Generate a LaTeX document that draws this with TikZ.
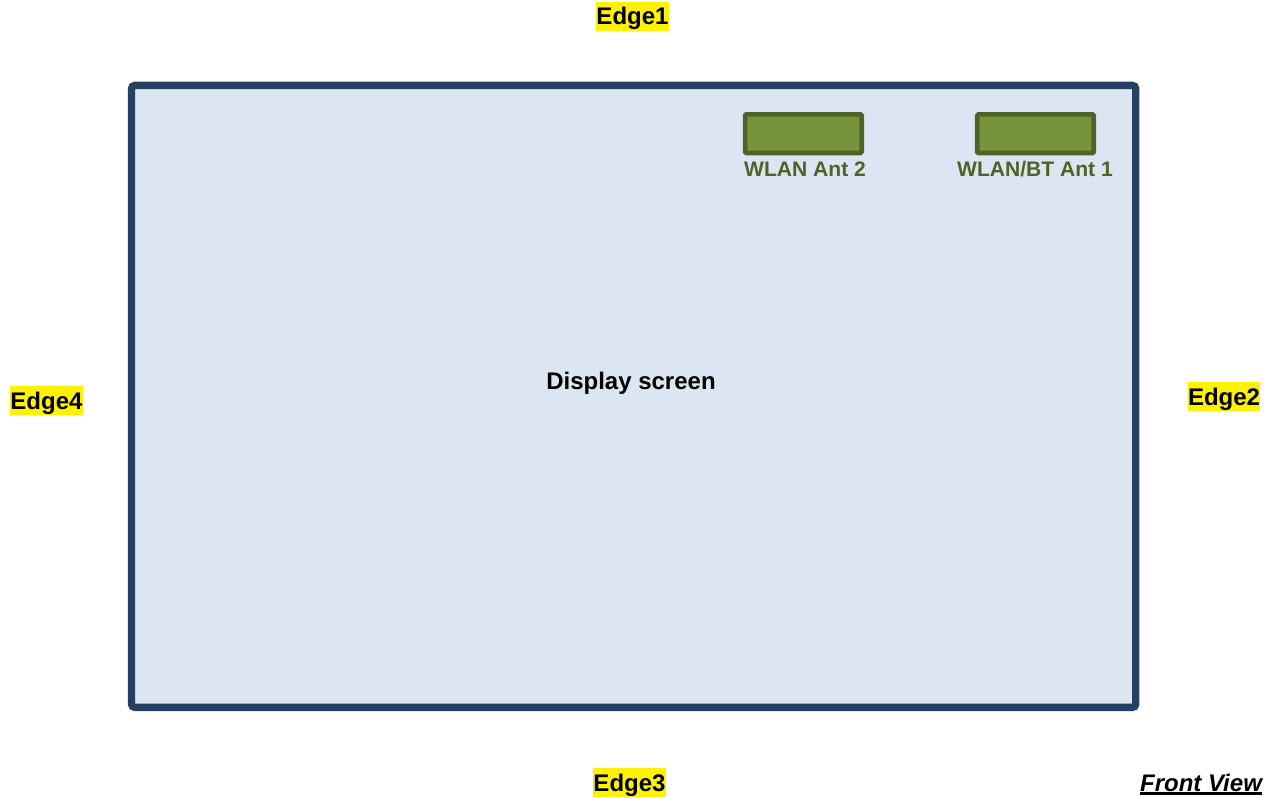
\documentclass[tikz,border=0pt]{standalone}
\usepackage{fontspec}
\setmainfont{Liberation Sans}
\definecolor{frameblue}{HTML}{254061}
\definecolor{screenfill}{HTML}{DCE6F2}
\definecolor{antfill}{HTML}{77933C}
\definecolor{antline}{HTML}{4F6228}
\tikzset{
  edgelabel/.style={fill=yellow,inner sep=0pt,font=\bfseries\fontsize{18pt}{18pt}\selectfont,text height=17.25pt,text depth=4.5pt,anchor=center},
  antbox/.style={draw=antline,fill=antfill,line width=3.5pt,rounded corners=1pt,anchor=center,inner sep=0pt,minimum width=116.6pt*0.75,minimum height=38.7pt*0.75},
  antlabel/.style={text=antline,font=\bfseries\fontsize{15.8pt}{15.8pt}\selectfont,inner sep=0pt,anchor=base},
}
\begin{document}
\begin{tikzpicture}[x=0.75pt,y=-0.75pt]
\useasboundingbox (0,0) rectangle (1273,798);
\node[draw=frameblue,fill=screenfill,line width=5.5pt,rounded corners=2.5pt,minimum width=1004.2pt*0.75,minimum height=622pt*0.75,inner sep=0pt,anchor=center] (screen) at (633.6,396.4) {};
\node[font=\bfseries\fontsize{18pt}{18pt}\selectfont,inner sep=0pt] (disp) at (631,383) {Display screen};
\node[antbox] (ant2) at (803.4,133.7) {};
\node[antbox] (ant1) at (1035.5,133.7) {};
\node[antlabel] (l2) at (805,177) {WLAN Ant 2};
\node[antlabel] (l1) at (1035,177) {WLAN/BT Ant 1};
\node[edgelabel] (e1) at (632.5,16.5) {Edge1};
\node[edgelabel] (e2) at (1224,396.5) {Edge2};
\node[edgelabel] (e3) at (629.5,782.5) {Edge3};
\node[edgelabel] (e4) at (46.5,400.5) {Edge4};
\node[inner sep=0pt,anchor=base,font=\bfseries\itshape\fontsize{18pt}{18pt}\selectfont] (fv) at (1201,791) {\sbox0{Front View}\rlap{\rule[-3pt]{\wd0}{2.2pt}}\box0};
\end{tikzpicture}
\end{document}
